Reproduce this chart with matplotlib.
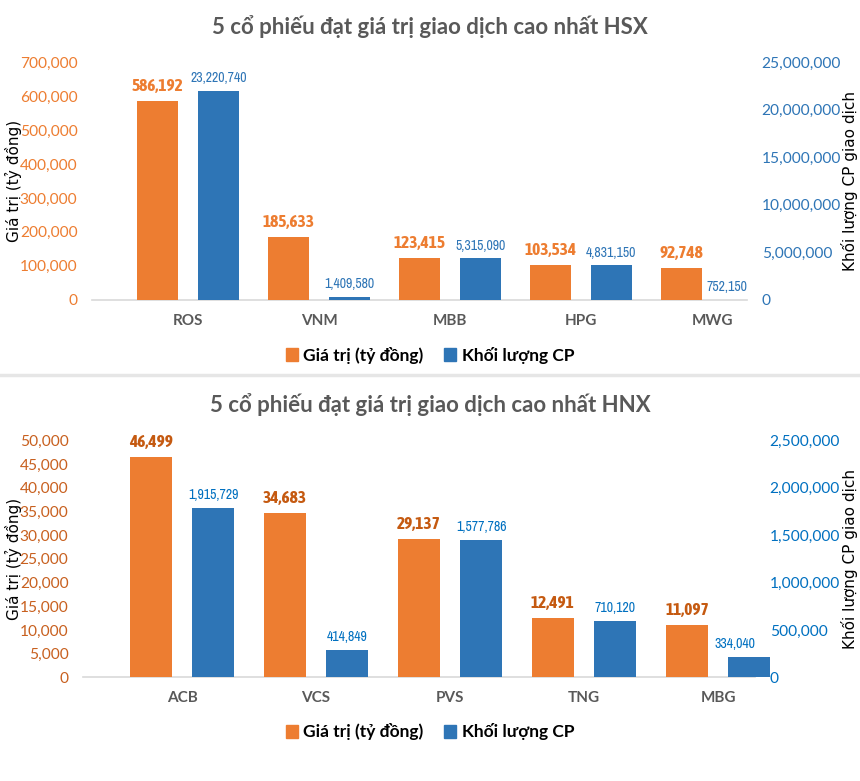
import matplotlib
matplotlib.use("Agg")
import matplotlib.pyplot as plt
from matplotlib import font_manager
from matplotlib.ticker import FuncFormatter
from matplotlib.patches import Rectangle
from matplotlib.lines import Line2D

# ---- data ----
hsx_codes = ["ROS", "VNM", "MBB", "HPG", "MWG"]
hsx_value = [586192, 185633, 123415, 103534, 92748]
hsx_volume_label = [23220740, 1409580, 5315090, 4831150, 752150]
# blue bars as drawn in the picture (right axis), they sit below the labels
hsx_volume_bar = [21980000, 280000, 4360000, 3620000, 0]

hnx_codes = ["ACB", "VCS", "PVS", "TNG", "MBG"]
hnx_value = [46499, 34683, 29137, 12491, 11097]
hnx_volume_label = [1915729, 414849, 1577786, 710120, 334040]
hnx_volume_bar = [1789000, 288000, 1448000, 594000, 214000]

ORANGE = "#ED7D31"
BLUE = "#2E75B6"
GRAY = "#595959"
TITLE_FONT = ["Lato", "DejaVu Sans"]

# narrow fonts for the data labels (bold one only if it really exists)
fl = font_manager.fontManager.ttflist
narrow_any = sorted({f.name for f in fl if "Narrow" in f.name or "Condensed" in f.name})
narrow_bold = sorted({f.name for f in fl if ("Narrow" in f.name or "Condensed" in f.name)
                      and f.weight in ("bold", 700, "700")})
NARROW = dict(family=[narrow_any[0], "DejaVu Sans"]) if narrow_any else dict(family=["Roboto"])
if narrow_bold:
    NARROW_B = dict(family=[narrow_bold[0], "DejaVu Sans"], fontweight="bold")
else:
    NARROW_B = dict(family=["Roboto", "DejaVu Sans"], fontweight="bold")

fmt = FuncFormatter(lambda v, p: f"{v:,.0f}")


def draw_panel(fig, rect, title, title_y, codes, value, vol_bar, vol_label,
               ymax_l, step_l, ymax_r, step_r, xlim, tick_l_col, tick_r_col,
               lab_o_col, lab_b_col, legend_y, ylab_l_x, ylab_r_x):
    ax = fig.add_axes(rect)
    ax2 = ax.twinx()
    x = list(range(len(codes)))
    w = 0.313
    off = 0.232
    ax.bar([i - off for i in x], value, width=w, color=ORANGE, zorder=3)
    ax2.bar([i + off for i in x], vol_bar, width=w, color=BLUE, zorder=3, clip_on=False)

    ax.set_xlim(*xlim)
    ax.set_ylim(0, ymax_l)
    ax2.set_ylim(0, ymax_r)
    ax.set_yticks(range(0, ymax_l + 1, step_l))
    ax2.set_yticks(range(0, ymax_r + 1, step_r))
    ax.yaxis.set_major_formatter(fmt)
    ax2.yaxis.set_major_formatter(fmt)
    ax.set_xticks(x)
    ax.set_xticklabels(codes, fontsize=11, fontweight="bold", color=GRAY, family=TITLE_FONT)
    for a in (ax, ax2):
        for s in a.spines.values():
            s.set_visible(False)
        a.tick_params(length=0)
    ax.spines["bottom"].set_visible(True)
    ax.spines["bottom"].set_color("#D9D9D9")
    ax.spines["bottom"].set_linewidth(1.2)
    ax.tick_params(axis="x", pad=10)
    ax.tick_params(axis="y", labelsize=11.2, labelcolor=tick_l_col, pad=10.5)
    ax2.tick_params(axis="y", labelsize=11.2, labelcolor=tick_r_col, pad=10.5)
    for t in ax.get_yticklabels() + ax2.get_yticklabels():
        t.set_family(TITLE_FONT)

    ax.set_ylabel("Giá trị (tỷ đồng)", fontsize=11, color="black", va="center")
    ax2.set_ylabel("Khối lượng CP giao dịch", fontsize=11, color="black", va="center",
                   rotation=90)
    ax.yaxis.set_label_coords(ylab_l_x, 0.5)
    ax2.yaxis.set_label_coords(ylab_r_x, 0.5)

    for i, v in zip(x, value):
        ax.annotate(f"{v:,}", (i - off, v), xytext=(0, 5), textcoords="offset points",
                    ha="center", va="bottom", fontsize=12.5, color=lab_o_col, **NARROW_B)
    for i, hb, lb in zip(x, vol_bar, vol_label):
        xi = i + off
        ha = "center"
        if xi + w / 2 > xlim[1]:
            xi = xlim[1]
            ha = "right"
        ax2.annotate(f"{lb:,}", (xi, hb), xytext=(0, 4), textcoords="offset points",
                     ha=ha, va="bottom", fontsize=10, color=lab_b_col, **NARROW)

    fig.text(0.5, title_y, title, ha="center", va="center", fontsize=16,
             fontweight="bold", color=GRAY, family=TITLE_FONT)

    handles = [Rectangle((0, 0), 1, 1, color=ORANGE), Rectangle((0, 0), 1, 1, color=BLUE)]
    fig.legend(handles, ["Giá trị (tỷ đồng)", "Khối lượng CP"], loc="center",
               bbox_to_anchor=(0.5, legend_y), ncol=2, frameon=False,
               handlelength=0.7, handleheight=0.7, handletextpad=0.3, columnspacing=1.2,
               prop={"family": TITLE_FONT, "weight": "bold", "size": 12.5})
    return ax, ax2


fig = plt.figure(figsize=(8.6, 7.81), dpi=100)
H = 781.0

draw_panel(fig, [92 / 860, 1 - 299.7 / H, 655 / 860, 237.4 / H],
           "5 cổ phiếu đạt giá trị giao dịch cao nhất HSX", 1 - 27 / H,
           hsx_codes, hsx_value, hsx_volume_bar, hsx_volume_label,
           700000, 100000, 25000000, 5000000, (-0.733, 4.267),
           ORANGE, BLUE, ORANGE, BLUE, 1 - 355 / H,
           (13 - 92) / 655, (849 - 92) / 655)

fig.add_artist(Line2D([0, 1], [1 - 375 / H, 1 - 375 / H], color="#E6E6E6", linewidth=2.5,
                      transform=fig.transFigure))

draw_panel(fig, [83 / 860, 1 - 677.3 / H, 672 / 860, 237 / H],
           "5 cổ phiếu đạt giá trị giao dịch cao nhất HNX", 1 - 405 / H,
           hnx_codes, hnx_value, hnx_volume_bar, hnx_volume_label,
           50000, 5000, 2500000, 500000, (-0.739, 4.276),
           "#C8601F", "#0070C0", "#C55A11", "#0070C0", 1 - 732 / H,
           (13 - 83) / 672, (849 - 83) / 672)

fig.savefig("out.png", dpi=100)
